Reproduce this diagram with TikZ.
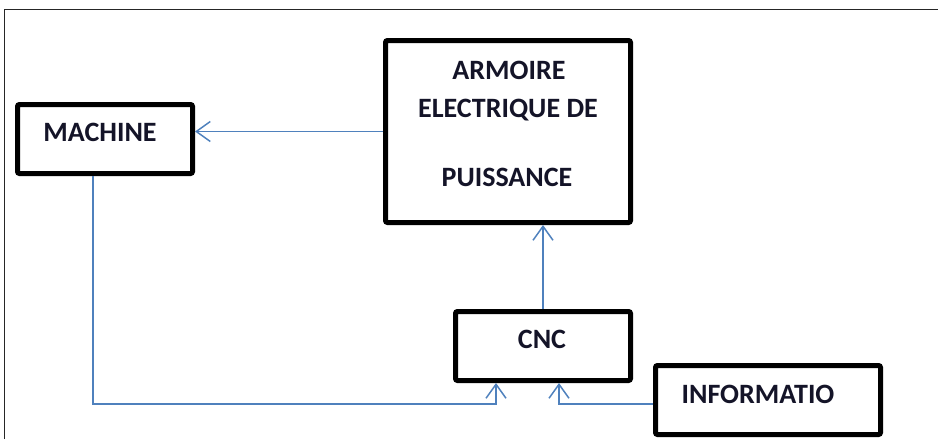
\documentclass[tikz,border=0pt]{standalone}
\usepackage{fontspec}
\setmainfont{Carlito}
\usetikzlibrary{arrows.meta}
\definecolor{linkblue}{RGB}{79,129,189}
\definecolor{txtdark}{RGB}{20,20,40}
\tikzset{
  box/.style={draw=black, line width=5pt, rounded corners=2pt, fill=white, inner sep=0pt},
  lbl/.style={inner sep=0pt, font=\fontsize{28}{34}\selectfont\bfseries, text=txtdark},
  link/.style={draw=linkblue, line width=1.5pt},
  linkarrow/.style={link, -{Straight Barb[length=14pt,width=20pt,line width=1.5pt]}},
  frameline/.style={draw=black!85, line width=1pt}
}
\begin{document}
\begin{tikzpicture}[x=1pt,y=-1pt]
\useasboundingbox (0,0) rectangle (939,439);
\draw[frameline] (4,439) -- (4,9) -- (938,9);
% boxes
\node[box, minimum width=175pt, minimum height=69pt] (mach) at (105,139) {};
\node[box, minimum width=245pt, minimum height=182pt] (arm) at (508,131.5) {};
\node[box, minimum width=175pt, minimum height=69pt] (cnc) at (543,346) {};
\node[box, minimum width=225pt, minimum height=69pt] (info) at (768,400) {};
% texts
\node[lbl] (machT) at (100,132) {MACHINE};
\node[lbl] (armT1) at (509,70) {ARMOIRE};
\node[lbl] (armT2) at (508,110) {ELECTRIQUE DE};
\node[lbl] (armT3) at (507,177) {PUISSANCE};
\node[lbl] (cncT) at (542,339) {CNC};
\node[lbl] (infoT) at (758,394) {INFORMATIO};
% connectors
\draw[linkarrow] (arm.west) -- (arm.west -| mach.east);
\draw[linkarrow] (cnc.north) -- (cnc.north |- arm.south);
\coordinate (machOut) at ([xshift=-12pt]mach.south);
\coordinate (cncInA) at ([xshift=-47pt]cnc.south);
\coordinate (cncInB) at ([xshift=16pt]cnc.south);
\coordinate (infoOut) at ([yshift=-4pt]info.west);
\draw[linkarrow] (machOut) -- (machOut |- infoOut) -| (cncInA);
\draw[linkarrow] (infoOut) -| (cncInB);
\end{tikzpicture}
\end{document}
